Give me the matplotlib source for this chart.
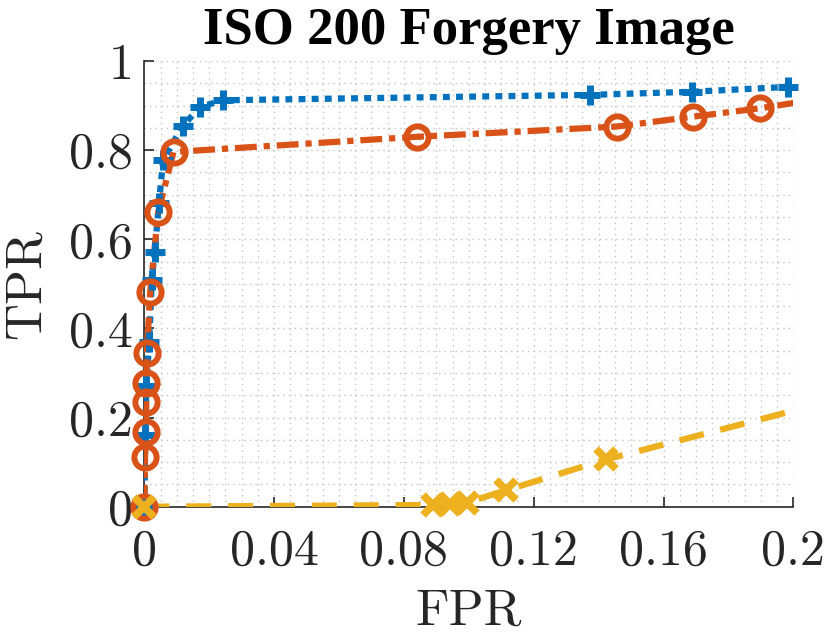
import matplotlib
matplotlib.use('Agg')
import matplotlib.pyplot as plt
import numpy as np
from matplotlib.ticker import MultipleLocator

# ---- data ----
blue_fpr = [0, 0.0003, 0.0006, 0.0015, 0.0023, 0.0032, 0.0045, 0.0058, 0.0118, 0.0172, 0.0243, 0.1374, 0.1687, 0.1985, 0.215]
blue_tpr = [0, 0.16, 0.27, 0.370, 0.509, 0.572, 0.681, 0.778, 0.854, 0.897, 0.912, 0.924, 0.931, 0.942, 0.944]

orange_fpr = [0, 0.0002, 0.0005, 0.0006, 0.0006, 0.0008, 0.0018, 0.0043, 0.0090, 0.084, 0.1456, 0.169, 0.1897, 0.215]
orange_tpr = [0, 0.112, 0.168, 0.236, 0.277, 0.344, 0.482, 0.662, 0.796, 0.830, 0.853, 0.875, 0.894, 0.923]

yellow_fpr = [0, 0.0891, 0.0942, 0.0993, 0.1115, 0.1423, 0.25]
yellow_tpr = [0, 0.004, 0.006, 0.009, 0.037, 0.106, 0.31]

xticks = [0, 0.04, 0.08, 0.12, 0.16, 0.2]
xticklabels = ['0', '0.04', '0.08', '0.12', '0.16', '0.2']
yticks = [0, 0.2, 0.4, 0.6, 0.8, 1]
yticklabels = ['0', '0.2', '0.4', '0.6', '0.8', '1']

title = 'ISO 200 Forgery Image'
xlabel = 'FPR'
ylabel = 'TPR'

BLUE = '#0072BD'
ORANGE = '#D95319'
YELLOW = '#EDB120'
AXC = '#262626'

fig = plt.figure(figsize=(8.3, 6.35), dpi=100)
ax = fig.add_axes([0.1739, 0.2020, 0.7819, 0.7019])

XMAX, YMAX = 0.2, 1.0


def series(x, y, color, ls, marker, ms, mew):
    x = np.asarray(x); y = np.asarray(y)
    ax.plot(x, y, color=color, linestyle=ls, linewidth=4.5,
            dash_capstyle='butt', solid_capstyle='butt', zorder=3)
    m = x <= XMAX
    ax.plot(x[m], y[m], linestyle='none', marker=marker, markersize=ms,
            markeredgewidth=mew, markeredgecolor=color, markerfacecolor='none',
            clip_on=False, zorder=4)


series(blue_fpr, blue_tpr, BLUE, (0, (1.1, 1.0)), '+', 15, 5)
series(orange_fpr, orange_tpr, ORANGE, (0, (3.5, 1.1, 1.0, 1.1)), 'o', 16, 4.3)
series(yellow_fpr, yellow_tpr, YELLOW, (0, (4.0, 2.7)), 'x', 15, 5.5)

ax.set_xlim(0, XMAX)
ax.set_ylim(0, YMAX)

ax.xaxis.set_minor_locator(MultipleLocator(0.005))
ax.yaxis.set_minor_locator(MultipleLocator(0.05))
ax.grid(which='both', color='#c4c4c4', linestyle=(0, (1, 3)), linewidth=1.0)
ax.set_axisbelow(True)

ax.set_xticks(xticks, xticklabels, fontfamily='cmr10', fontsize=36, color=AXC)
ax.set_yticks(yticks, yticklabels, fontfamily='cmr10', fontsize=36, color=AXC)
ax.tick_params(which='major', direction='in', length=7, width=1.2, color=AXC)
ax.tick_params(axis='x', which='major', pad=16)
ax.tick_params(axis='y', which='major', pad=8)
ax.tick_params(which='minor', length=0)

for s in ['top', 'right']:
    ax.spines[s].set_visible(False)
for s in ['left', 'bottom']:
    ax.spines[s].set_color(AXC)
    ax.spines[s].set_linewidth(1.2)

ax.set_xlabel(xlabel, fontfamily='cmr10', fontsize=37, color=AXC, labelpad=10)
ax.set_ylabel(ylabel, fontfamily='cmr10', fontsize=37, color=AXC, labelpad=14)
ax.set_title(title, fontfamily='Liberation Serif', fontweight='bold', fontsize=38,
             color='black', pad=12)

fig.savefig('out.png', dpi=100)
